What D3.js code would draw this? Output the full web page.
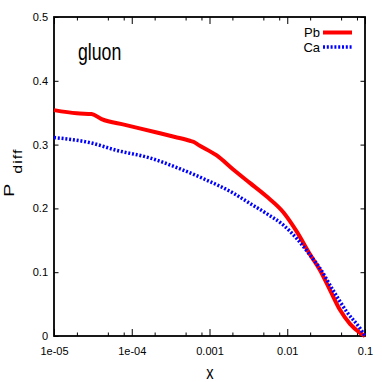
<!DOCTYPE html>
<html>
<head>
<meta charset="utf-8">
<script src="https://cdn.jsdelivr.net/npm/d3@7"></script>
<style>
  body { margin: 0; background: #fff; }
  text { font-family: "Liberation Sans", Arial, sans-serif; }
</style>
</head>
<body>
<script>
// Set Dimensions

const xSize = 382; const ySize = 382;
const plotLeft = 54, plotRight = 365, plotTop = 17, plotBottom = 336;

// Data

const xTicks = [1e-5, 1e-4, 1e-3, 1e-2, 1e-1];
const xTickLabels = ["1e-05", "1e-04", "0.001", "0.01", "0.1"];
const xMinorFactors = [2, 5, 8];
const yTicks = [0, 0.1, 0.2, 0.3, 0.4, 0.5];
const yTickLabels = ["0", "0.1", "0.2", "0.3", "0.4", "0.5"];

const pbX = [1e-5, 1.96e-5, 3.05e-5, 4.1e-5, 8.2e-5, 2.1e-4, 3.6e-4, 5.6e-4, 6.3e-4, 7.1e-4,
             1.24e-3, 2.02e-3, 3.3e-3, 5.4e-3, 8.9e-3, 0.0132, 0.0196, 0.0264, 0.0355, 0.0476,
             0.0641, 0.0863, 0.1];
const pbY = [0.354, 0.349, 0.348, 0.340, 0.331, 0.319, 0.312, 0.306, 0.304, 0.300,
             0.283, 0.261, 0.240, 0.219, 0.194, 0.164, 0.128, 0.103, 0.072, 0.041,
             0.019, 0.005, 0.0];

const caX = [1e-5, 2.9e-5, 6.4e-5, 1.72e-4, 3.8e-4, 8.2e-4, 2.02e-3, 3.3e-3, 5.4e-3, 8.9e-3,
             0.0132, 0.0196, 0.0264, 0.0387, 0.0582, 0.0863, 0.1];
const caY = [0.311, 0.303, 0.291, 0.279, 0.264, 0.247, 0.224, 0.208, 0.192, 0.174,
             0.153, 0.127, 0.106, 0.072, 0.038, 0.012, 0.0];

const seriesNames = ["Pb", "Ca"];

//Create the SVG

const svg = d3.select("body")
 .append("svg")
 .attr("width", xSize)
 .attr("height", ySize);

// Scales

const x = d3.scaleLog().domain([1e-5, 0.1]).range([plotLeft, plotRight]);
const y = d3.scaleLinear().domain([0, 0.5]).range([plotBottom, plotTop]);

// minor ticks on x: 2,5,8 per decade
const xMinor = [];
xTicks.slice(0, -1).forEach(t => xMinorFactors.forEach(f => xMinor.push(t * f)));

// bottom axis, ticks pointing in
const gBottom = svg.append("g")
 .attr("transform", "translate(0," + plotBottom + ")")
 .call(d3.axisBottom(x).tickValues(xTicks).tickFormat((d, i) => xTickLabels[i])
   .tickSizeInner(-7).tickSizeOuter(0).tickPadding(11));

gBottom.selectAll(".minor").data(xMinor).enter().append("line")
 .attr("x1", d => x(d)).attr("x2", d => x(d))
 .attr("y1", 0).attr("y2", -3.5).attr("stroke", "#000");

// top axis
const gTop = svg.append("g")
 .attr("transform", "translate(0," + plotTop + ")")
 .call(d3.axisTop(x).tickValues(xTicks).tickFormat("").tickSizeInner(-7).tickSizeOuter(0));

gTop.selectAll(".minor").data(xMinor).enter().append("line")
 .attr("x1", d => x(d)).attr("x2", d => x(d))
 .attr("y1", 0).attr("y2", 3.5).attr("stroke", "#000");

// left y axis
svg.append("g")
 .attr("transform", "translate(" + plotLeft + ",0)")
 .call(d3.axisLeft(y).tickValues(yTicks).tickFormat((d, i) => yTickLabels[i])
   .tickSizeInner(-4.5).tickSizeOuter(0).tickPadding(6));

// right y axis
svg.append("g")
 .attr("transform", "translate(" + plotRight + ",0)")
 .call(d3.axisRight(y).tickValues(yTicks).tickFormat("").tickSizeInner(-4.5).tickSizeOuter(0));

svg.selectAll(".domain").attr("stroke", "none");
svg.selectAll(".tick line").attr("stroke", "#000").attr("stroke-width", 1);
svg.selectAll(".tick text").attr("font-size", 11).attr("fill", "#000")
 .attr("font-family", "Liberation Sans, Arial, sans-serif");

// border
svg.append("rect")
 .attr("x", plotLeft).attr("y", plotTop)
 .attr("width", plotRight - plotLeft).attr("height", plotBottom - plotTop)
 .attr("fill", "none").attr("stroke", "#000").attr("stroke-width", 1.8);

// the curves

const line = d3.line()
 .x(d => x(d[0]))
 .y(d => y(d[1]))
 .curve(d3.curveMonotoneX);

const caData = caX.map((v, i) => [v, caY[i]]);
const pbData = pbX.map((v, i) => [v, pbY[i]]);

svg.append("path")
 .datum(pbData)
 .attr("fill", "none")
 .attr("stroke", "#ff0000")
 .attr("stroke-width", 4)
 .attr("d", line);

svg.append("path")
 .datum(caData)
 .attr("fill", "none")
 .attr("stroke", "#0000ff")
 .attr("stroke-width", 3.5)
 .attr("stroke-dasharray", "2,1.8")
 .attr("d", line);

// legend

const legend = svg.append("g");
const legendColors = ["#ff0000", "#0000ff"];
const legendDash = [null, "2,1.8"];
seriesNames.forEach((name, i) => {
  const ly = 32.5 + i * 14.5;
  legend.append("text")
   .attr("x", 320).attr("y", ly + 4.5)
   .attr("text-anchor", "end")
   .attr("font-size", 13)
   .text(name);
  legend.append("line")
   .attr("x1", 323).attr("x2", 352)
   .attr("y1", ly).attr("y2", ly)
   .attr("stroke", legendColors[i])
   .attr("stroke-width", i === 0 ? 4 : 3.5)
   .attr("stroke-dasharray", legendDash[i]);
});

// labels (the original text is squeezed sideways)

svg.append("text")
 .attr("transform", "translate(78,59.5) scale(0.77,1)")
 .attr("font-size", 23)
 .text("gluon");

svg.append("text")
 .attr("transform", "translate(210,379) scale(0.77,1)")
 .attr("text-anchor", "middle")
 .attr("font-size", 19)
 .text("x");

const ylab = svg.append("text")
 .attr("transform", "translate(13.5,197) scale(0.75,1) rotate(-90)")
 .attr("font-size", 20);
ylab.append("tspan").text("P");
ylab.append("tspan").attr("dx", 10).attr("dy", 11).attr("font-size", 16)
 .attr("letter-spacing", 1).text("diff");
</script>
</body>
</html>
